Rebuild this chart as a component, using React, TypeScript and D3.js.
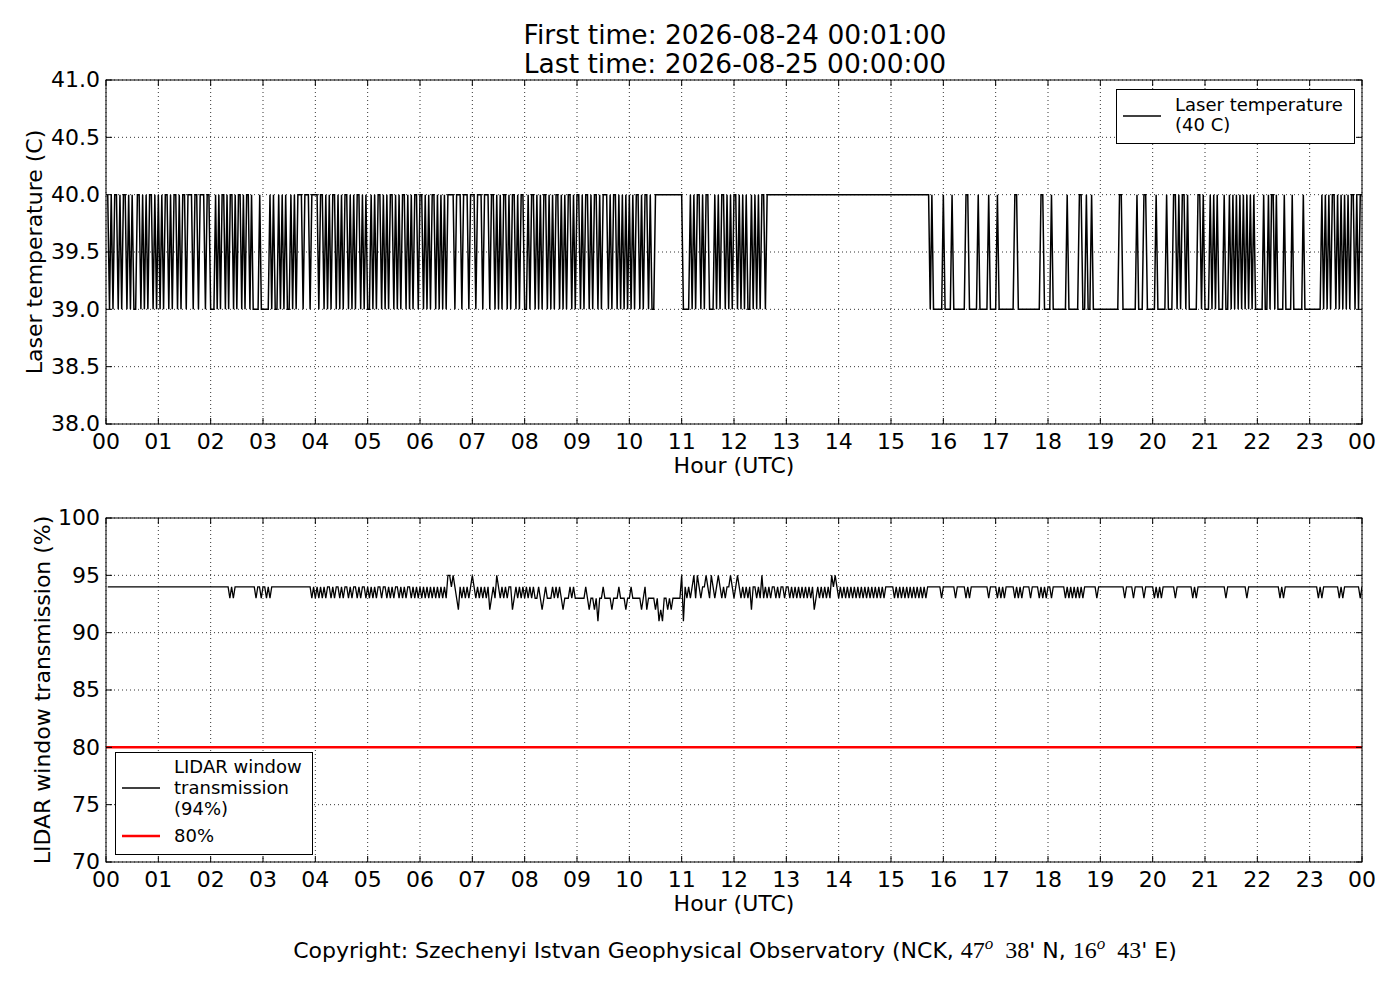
import * as d3 from "d3";

// x axis: minutes of the day, one tick per hour
const hourLabels = [
    "00", "01", "02", "03", "04", "05", "06", "07", "08", "09", "10", "11",
    "12", "13", "14", "15", "16", "17", "18", "19", "20", "21", "22", "23", "00"
];
const tempTicks = [38.0, 38.5, 39.0, 39.5, 40.0, 40.5, 41.0];
const transTicks = [70, 75, 80, 85, 90, 95, 100];

// laser temperature, one string per hour,
// each char one equal slice of that hour: 1 = 40 C, 0 = 39 C
const laserHours = [
    "101011010110101001101010110101",
    "010110101101011011101101110110",
    "00101011010110101101011010000100",
    "000101001010100101011101110111",
    "101101010110101011010101101010",
    "010101101010110101011010101101",
    "101010110101010111101110111011",
    "101110111011010101101011010110",
    "010110101011010101101010110101",
    "101011010110101110101101010101",
    "010110101101001111111111111111",
    "000010101101011000101011010101",
    "101010100101010110111111111111",
    "111111111111111111111111111111",
    "111111111111111111111111111111",
    "11111111111111111111111010000001",
    "000010000000110000010000010000",
    "100000000011000000000000011000",
    "010000000010000001100100100000",
    "000000000011000000001000110000",
    "010000010001101011010000011010",
    "001010100010010101010101010100",
    "000100101101000010000100000010000",
    "000000101010110101010101101011",
];

// LIDAR window transmission, one string per hour, digit d = 90 + d %
const windowHours = [
    "444444444444444444444444444444",
    "444444444444444444444444444444",
    "444444444434344444444444434434",
    "434344444444444444444444444343",
    "434343443434434344343443434434",
    "343434434434343443434344343434",
    "343434343434343554543243434345",
    "434343434234354343434423434343",
    "434343343234333434343233343433",
    "333343233231334333323334333233",
    "433333234233332312133232333335",
    "143434535434454354345434344543",
    "454343434244343534343443434434",
    "434343434343434234343434354543",
    "434343434343434343434343434444",
    "434343434343434343434444444434",
    "444444344444343444444444434444",
    "343434444434343444434444343434",
    "434444444343434343434444444344",
    "444444444444434444344444344444",
    "343434444444344444444434344444",
    "444444444443444444444443444444",
    "444444444444343444444444444444",
    "444434344444444434344444444434",
];
const thresholdValue = 80;

type Pt = [number, number];

function decode(hours: string[], toValue: (c: string) => number): Pt[] {
    const pts: Pt[] = [];
    hours.forEach((s, h) => {
        const n = s.length;
        for (let i = 0; i < n; i++) {
            pts.push([h * 60 + ((i + 1) * 60) / n, toValue(s[i])]);
        }
    });
    return pts;
}

const laserData = decode(laserHours, (c) => (c === "1" ? 40 : 39));
const windowData = decode(windowHours, (c) => 90 + Number(c));

const FONT = "DejaVu Sans";
const left = 106;
const right = 1362;
const panelHeight = 344;
const tickLen = 6;

const x = d3.scaleLinear([0, 1440], [left, right]);

interface PanelProps {
    top: number;
    id: string;
    yDomain: [number, number];
    yTicks: number[];
    yFormat: (v: number) => string;
    yLabel: string;
    yLabelX: number;
    data: Pt[];
    lineWidth: number;
    extra?: (y: d3.ScaleLinear<number, number>) => JSX.Element;
}

function Panel({ top, id, yDomain, yTicks, yFormat, yLabel, yLabelX, data, lineWidth, extra }: PanelProps) {
    const bottom = top + panelHeight;
    const y = d3.scaleLinear(yDomain, [bottom, top]);
    const line = d3.line<Pt>((d) => x(d[0]), (d) => y(d[1]));
    const xTicks = hourLabels.map((_, i) => i * 60);

    return (
        <g>
            <defs>
                <clipPath id={id}>
                    <rect x={left} y={top} width={right - left} height={panelHeight} />
                </clipPath>
            </defs>

            {/* dotted grid */}
            <g stroke="#000" strokeWidth={0.8} strokeDasharray="1,3">
                {xTicks.map((t) => (
                    <line key={"gx" + t} x1={x(t)} x2={x(t)} y1={top} y2={bottom} />
                ))}
                {yTicks.map((t) => (
                    <line key={"gy" + t} x1={left} x2={right} y1={y(t)} y2={y(t)} />
                ))}
            </g>

            <g clipPath={`url(#${id})`}>
                <path d={line(data) || undefined} fill="none" stroke="#000" strokeWidth={lineWidth} />
                {extra && extra(y)}
            </g>

            {/* inward ticks on all four sides */}
            <g stroke="#000" strokeWidth={1}>
                {xTicks.map((t) => (
                    <g key={"tx" + t}>
                        <line x1={x(t)} x2={x(t)} y1={bottom} y2={bottom - tickLen} />
                        <line x1={x(t)} x2={x(t)} y1={top} y2={top + tickLen} />
                    </g>
                ))}
                {yTicks.map((t) => (
                    <g key={"ty" + t}>
                        <line x1={left} x2={left + tickLen} y1={y(t)} y2={y(t)} />
                        <line x1={right} x2={right - tickLen} y1={y(t)} y2={y(t)} />
                    </g>
                ))}
            </g>

            <rect x={left} y={top} width={right - left} height={panelHeight}
                  fill="none" stroke="#000" strokeWidth={1} />

            <g fontFamily={FONT} fontSize={22} fill="#000">
                {xTicks.map((t, i) => (
                    <text key={"lx" + t} x={x(t)} y={bottom + 25} textAnchor="middle">
                        {hourLabels[i]}
                    </text>
                ))}
                {yTicks.map((t) => (
                    <text key={"ly" + t} x={left - 6} y={y(t)} dy="0.34em" textAnchor="end">
                        {yFormat(t)}
                    </text>
                ))}
                <text x={(left + right) / 2} y={bottom + 49} textAnchor="middle">Hour (UTC)</text>
                <text transform={`translate(${yLabelX},${(top + bottom) / 2}) rotate(-90)`}
                      textAnchor="middle">
                    {yLabel}
                </text>
            </g>
        </g>
    );
}

export default function App() {
    return (
        <svg width={1400} height={1000} style={{ position: "absolute", left: 0, top: 0, background: "#fff" }}>
            <rect width={1400} height={1000} fill="#fff" />

            <g fontFamily={FONT} fontSize={26.5} textAnchor="middle">
                <text x={735} y={44}>First time: 2026-08-24 00:01:00</text>
                <text x={735} y={73}>Last time: 2026-08-25 00:00:00</text>
            </g>

            <Panel
                top={80}
                id="clip-laser"
                yDomain={[38, 41]}
                yTicks={tempTicks}
                yFormat={(v) => v.toFixed(1)}
                yLabel="Laser temperature (C)"
                yLabelX={42}
                data={laserData}
                lineWidth={1.5}
            />

            <Panel
                top={518}
                id="clip-window"
                yDomain={[70, 100]}
                yTicks={transTicks}
                yFormat={(v) => String(v)}
                yLabel="LIDAR window transmission (%)"
                yLabelX={50}
                data={windowData}
                lineWidth={1.3}
                extra={(y) => (
                    <line x1={left} x2={right} y1={y(thresholdValue)} y2={y(thresholdValue)}
                          stroke="#f00" strokeWidth={2.5} />
                )}
            />

            {/* legend, top panel */}
            <g fontFamily={FONT} fontSize={18}>
                <rect x={1116.5} y={89.5} width={238} height={54} fill="#fff" stroke="#000" strokeWidth={1} />
                <line x1={1123} x2={1161} y1={116} y2={116} stroke="#000" strokeWidth={1.3} />
                <text x={1175} y={111}>Laser temperature</text>
                <text x={1175} y={131}>(40 C)</text>
            </g>

            {/* legend, bottom panel */}
            <g fontFamily={FONT} fontSize={18}>
                <rect x={115.5} y={752.5} width={197} height={102} fill="#fff" stroke="#000" strokeWidth={1} />
                <line x1={122} x2={160} y1={788} y2={788} stroke="#000" strokeWidth={1.3} />
                <text x={174} y={773}>LIDAR window</text>
                <text x={174} y={794}>transmission</text>
                <text x={174} y={815}>(94%)</text>
                <line x1={122} x2={160} y1={836} y2={836} stroke="#f00" strokeWidth={2.5} />
                <text x={174} y={842}>80%</text>
            </g>

            <text x={735} y={958} fontFamily={FONT} fontSize={22} textAnchor="middle">
                {"Copyright: Szechenyi Istvan Geophysical Observatory (NCK, "}
                <tspan fontFamily="Liberation Serif" fontSize={24}>47</tspan>
                <tspan fontFamily="Liberation Serif" fontStyle="italic" fontSize={17} dy={-9}>o</tspan>
                <tspan fontFamily="Liberation Serif" fontSize={24} dy={9} dx={12}>38</tspan>
                {"' N, "}
                <tspan fontFamily="Liberation Serif" fontSize={24}>16</tspan>
                <tspan fontFamily="Liberation Serif" fontStyle="italic" fontSize={17} dy={-9}>o</tspan>
                <tspan fontFamily="Liberation Serif" fontSize={24} dy={9} dx={12}>43</tspan>
                {"' E)"}
            </text>
        </svg>
    );
}
